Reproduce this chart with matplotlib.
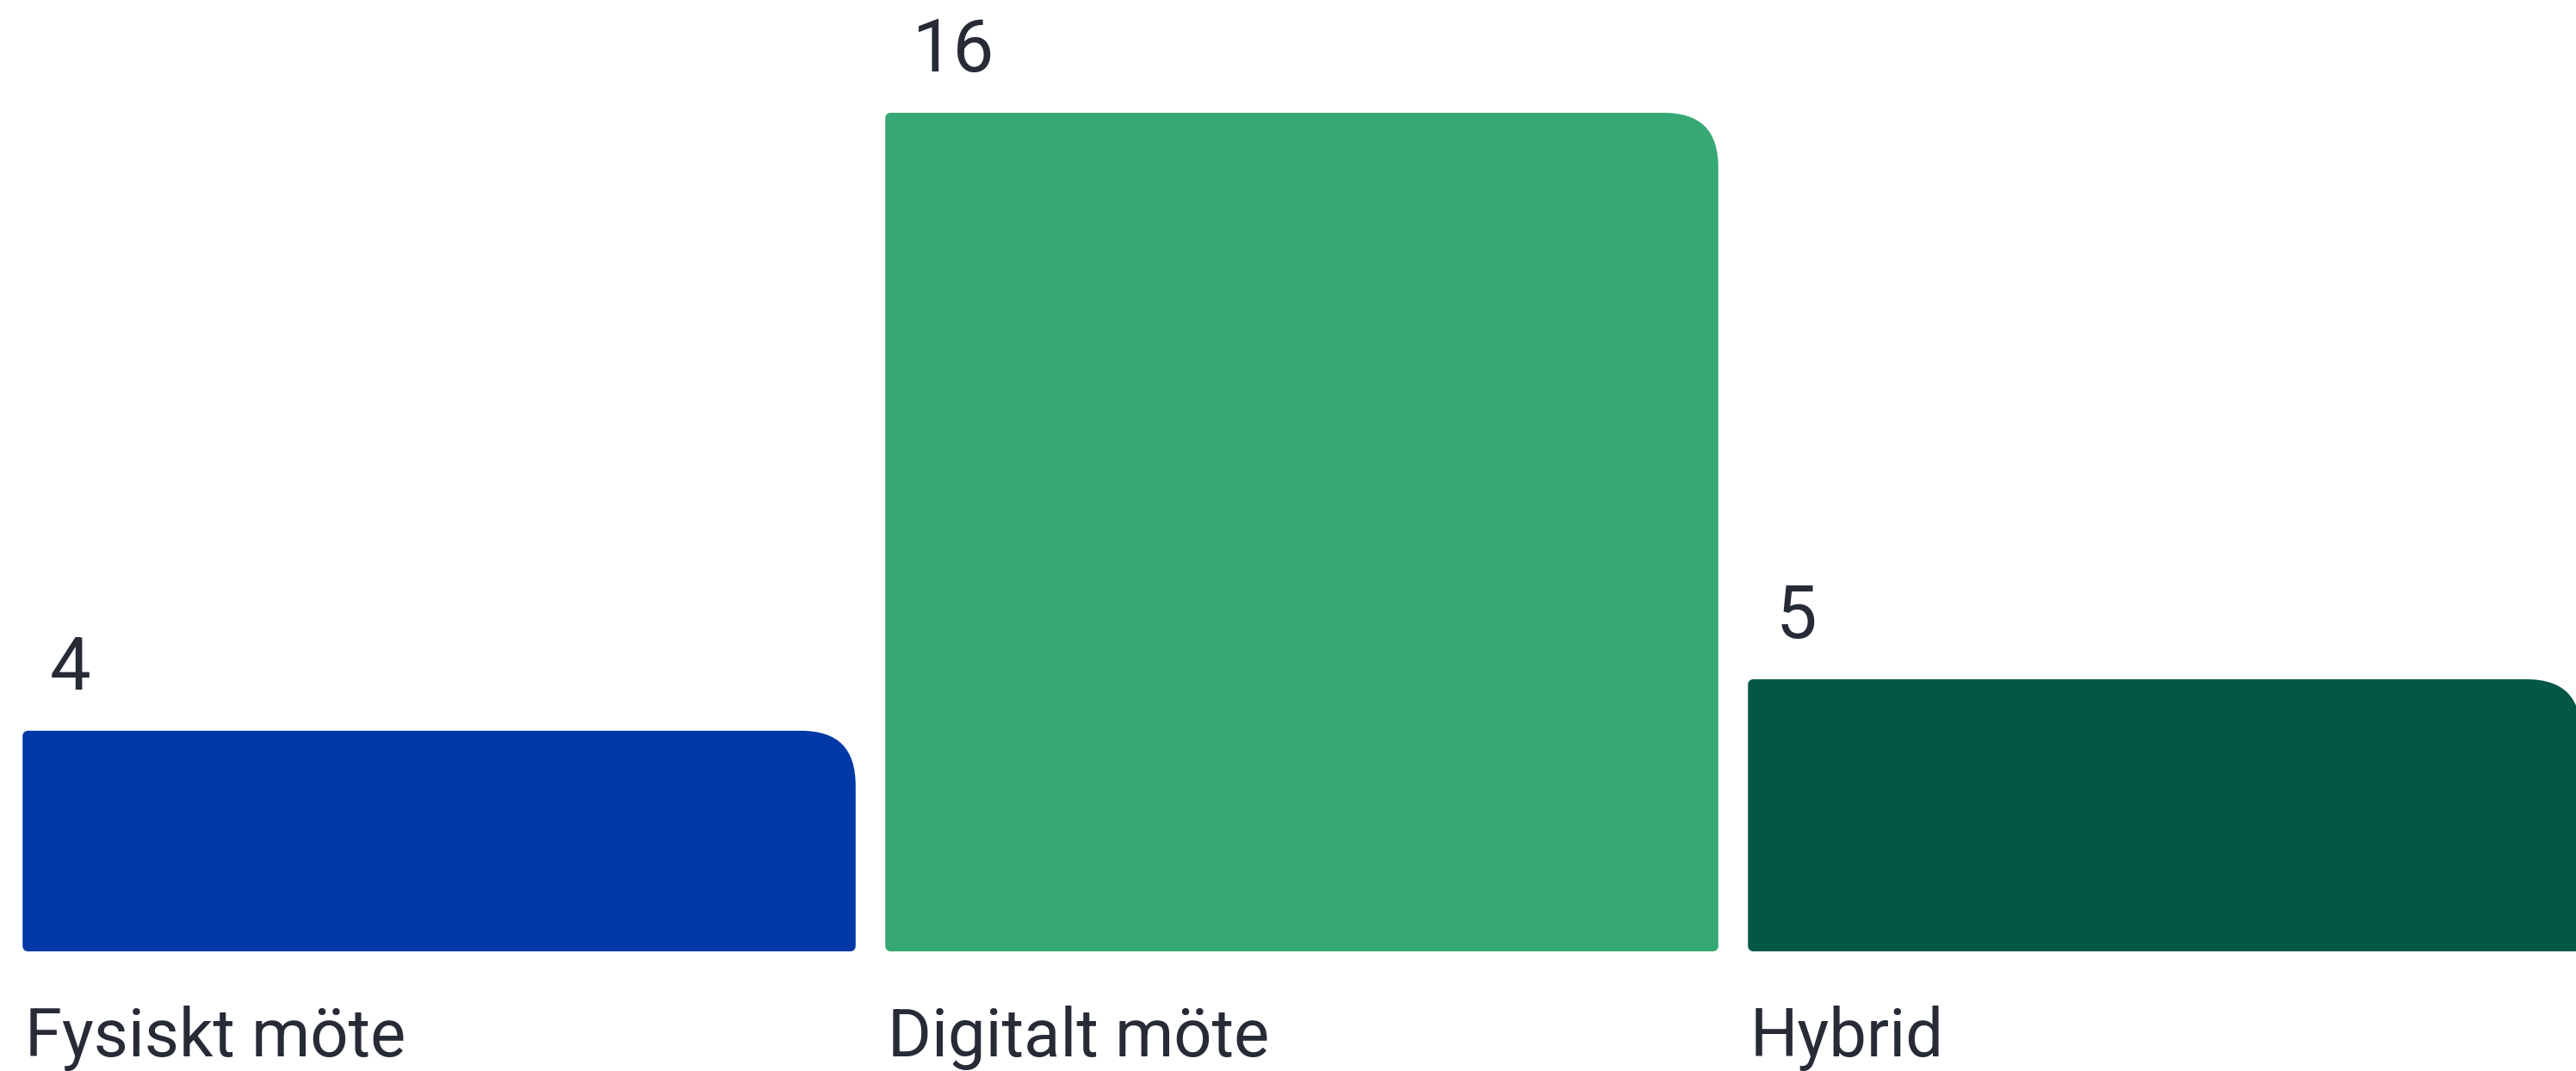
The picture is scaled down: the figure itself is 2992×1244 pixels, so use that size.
import matplotlib
matplotlib.use("Agg")
import matplotlib.pyplot as plt
from matplotlib.path import Path
from matplotlib.patches import PathPatch
from matplotlib.transforms import blended_transform_factory

# data
categories = ["Fysiskt möte", "Digitalt möte", "Hybrid"]
values = [4, 16, 5]
colors = ["#0039A6", "#36A874", "#025745"]
text_color = "#262B36"

plt.rcParams["font.family"] = ["Roboto", "DejaVu Sans"]

fig = plt.figure(figsize=(29.92, 12.44), dpi=100)
ax = fig.add_axes([0, 0.1117, 1, 0.8883])
ax.set_xlim(-0.509, 2.477)
ax.set_ylim(-0.284, 18.19)
ax.axis("off")

base = ax.get_ylim()[0]
x = list(range(len(categories)))
bars = ax.bar(x, [v - base for v in values], bottom=base, width=0.9656,
              color=colors)


def rounded_path(x0, y0, x1, y1, r_big, r_small):
    # display coords, y up; big radius on top-right corner only
    k = 0.5523
    kb = 0.68  # a bit squarer for the big corner
    verts = [
        (x0 + r_small, y0),
        (x1 - r_small, y0),
        (x1 - r_small + k * r_small, y0), (x1, y0 + r_small - k * r_small), (x1, y0 + r_small),
        (x1, y1 - r_big),
        (x1, y1 - r_big + kb * r_big), (x1 - r_big + kb * r_big, y1), (x1 - r_big, y1),
        (x0 + r_small, y1),
        (x0 + r_small - k * r_small, y1), (x0, y1 - r_small + k * r_small), (x0, y1 - r_small),
        (x0, y0 + r_small),
        (x0, y0 + r_small - k * r_small), (x0 + r_small - k * r_small, y0), (x0 + r_small, y0),
        (x0 + r_small, y0),
    ]
    codes = [Path.MOVETO, Path.LINETO,
             Path.CURVE4, Path.CURVE4, Path.CURVE4,
             Path.LINETO,
             Path.CURVE4, Path.CURVE4, Path.CURVE4,
             Path.LINETO,
             Path.CURVE4, Path.CURVE4, Path.CURVE4,
             Path.LINETO,
             Path.CURVE4, Path.CURVE4, Path.CURVE4,
             Path.CLOSEPOLY]
    return Path(verts, codes)


fig.canvas.draw()
for bar, c in zip(bars, colors):
    bb = bar.get_window_extent()
    bar.set_visible(False)
    p = PathPatch(rounded_path(bb.x0, bb.y0, bb.x1, bb.y1, 64, 6),
                  facecolor=c, edgecolor="none", transform=None)
    fig.add_artist(p)

trans = blended_transform_factory(ax.transData, ax.transAxes)
for xi, v, bar in zip(x, values, bars):
    left = bar.get_x()
    ax.annotate(str(v), (left, v), xytext=(23, 22), textcoords="offset points",
                ha="left", va="bottom", fontsize=61, color=text_color)
    ax.annotate(categories[xi], (left, 0), xycoords=trans, xytext=(2, -88),
                textcoords="offset points", ha="left", va="baseline",
                fontsize=56, color=text_color)

fig.savefig("out.png", dpi=100)
